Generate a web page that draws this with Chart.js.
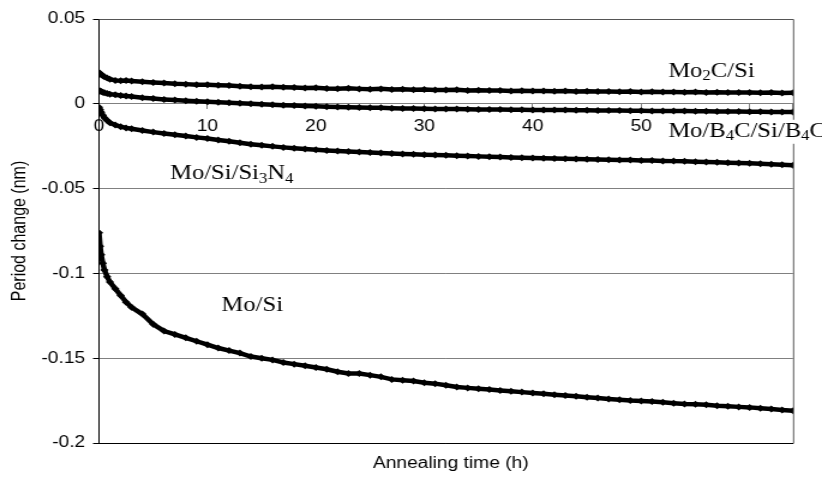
<!DOCTYPE html>
<html>
<head>
<meta charset="utf-8">
<script src="https://cdn.jsdelivr.net/npm/chart.js@4"></script>
<style>
  html, body { margin: 0; padding: 0; background: #fff; overflow: hidden; }
  canvas { display: block; }
</style>
</head>
<body>
<canvas id="c" width="685" height="487" style="width:822px;height:487px"></canvas>
<script>
// ---- data ----
const times = [0, 0.1, 0.2, 0.35, 0.5, 0.75, 1, 1.5, 2, 2.5, 3,
  4, 5, 6, 7, 8, 9, 10, 11, 12, 13, 14, 15, 16, 17, 18, 19, 20, 21, 22, 23, 24,
  25, 26, 27, 28, 29, 30, 31, 32, 33, 34, 35, 36, 37, 38, 39, 40, 41, 42, 43, 44,
  45, 46, 47, 48, 49, 50, 51, 52, 53, 54, 55, 56, 57, 58, 59, 60, 61, 62, 63, 64];

const mo2cSi = [0.0185, 0.0178, 0.0172, 0.0165, 0.0160, 0.0152, 0.0145, 0.0138, 0.0136, 0.0138, 0.0135,
  0.0130, 0.0126, 0.0122, 0.0118, 0.0116, 0.0113, 0.0112, 0.0110, 0.0108, 0.0104, 0.0100, 0.0099, 0.0101,
  0.0098, 0.0096, 0.0093, 0.0094, 0.0090, 0.0089, 0.0091, 0.0088, 0.0086, 0.0088, 0.0085, 0.0086, 0.0083,
  0.0084, 0.0082, 0.0081, 0.0083, 0.0079, 0.0080, 0.0078, 0.0079, 0.0076, 0.0077, 0.0075, 0.0076, 0.0074,
  0.0075, 0.0073, 0.0074, 0.0072, 0.0073, 0.0071, 0.0072, 0.0070, 0.0071, 0.0069, 0.0070, 0.0068, 0.0069,
  0.0067, 0.0068, 0.0066, 0.0067, 0.0066, 0.0065, 0.0066, 0.0064, 0.0065];

const moB4cSiB4c = [0.0079, 0.0075, 0.0072, 0.0068, 0.0065, 0.0061, 0.0057, 0.0053, 0.0049, 0.0046, 0.0043,
  0.0036, 0.0031, 0.0026, 0.0022, 0.0018, 0.0015, 0.0012, 0.0009, 0.0006, 0.0003, 0.0000, -0.0003, -0.0005,
  -0.0008, -0.0010, -0.0013, -0.0015, -0.0017, -0.0019, -0.0020, -0.0022, -0.0023, -0.0024, -0.0026, -0.0027,
  -0.0028, -0.0029, -0.0030, -0.0031, -0.0031, -0.0032, -0.0033, -0.0033, -0.0034, -0.0035, -0.0035, -0.0036,
  -0.0036, -0.0037, -0.0037, -0.0038, -0.0038, -0.0039, -0.0040, -0.0040, -0.0041, -0.0041, -0.0042, -0.0042,
  -0.0043, -0.0043, -0.0044, -0.0044, -0.0045, -0.0046, -0.0046, -0.0047, -0.0047, -0.0048, -0.0048, -0.0049];

const moSiSi3n4 = [-0.0020, -0.0035, -0.0050, -0.0068, -0.0082, -0.0098, -0.0112, -0.0125, -0.0135, -0.0142, -0.0147,
  -0.0157, -0.0167, -0.0175, -0.0182, -0.0190, -0.0198, -0.0205, -0.0213, -0.0221, -0.0230, -0.0238, -0.0245,
  -0.0251, -0.0257, -0.0262, -0.0267, -0.0271, -0.0275, -0.0278, -0.0281, -0.0284, -0.0287, -0.0290, -0.0293,
  -0.0296, -0.0298, -0.0300, -0.0302, -0.0304, -0.0306, -0.0308, -0.0310, -0.0312, -0.0314, -0.0316, -0.0318,
  -0.0320, -0.0321, -0.0323, -0.0324, -0.0325, -0.0327, -0.0328, -0.0330, -0.0331, -0.0332, -0.0334, -0.0335,
  -0.0337, -0.0338, -0.0339, -0.0341, -0.0343, -0.0345, -0.0347, -0.0349, -0.0351, -0.0354, -0.0357, -0.0360, -0.0363];

const moSi = [-0.076, -0.084, -0.089, -0.094, -0.098, -0.102, -0.105, -0.109, -0.113, -0.117, -0.120,
  -0.124, -0.130, -0.134, -0.136, -0.138, -0.140, -0.142, -0.144, -0.1455, -0.147, -0.149, -0.150, -0.151,
  -0.1525, -0.1535, -0.1545, -0.1555, -0.1565, -0.158, -0.159, -0.159, -0.160, -0.161, -0.1625, -0.163, -0.1635,
  -0.1645, -0.165, -0.166, -0.167, -0.1675, -0.168, -0.1685, -0.169, -0.1695, -0.170, -0.1705, -0.171, -0.1715,
  -0.172, -0.1725, -0.173, -0.1735, -0.174, -0.1745, -0.175, -0.1752, -0.1756, -0.176, -0.1765, -0.177, -0.1772,
  -0.1775, -0.178, -0.1783, -0.1787, -0.179, -0.1795, -0.180, -0.1805, -0.181];

const seriesNames = ['Mo2C/Si', 'Mo/B4C/Si/B4C', 'Mo/Si/Si3N4', 'Mo/Si'];
const xTickLabels = ['0', '10', '20', '30', '40', '50', ''];
const yTickLabels = ['-0.2', '-0.15', '-0.1', '-0.05', '0', '0.05'];
const xTitle = 'Annealing time (h)';
const yTitle = 'Period change (nm)';

// ---- presentation ----
const FONT_SANS = '"Liberation Sans", Arial, sans-serif';
const FONT_SERIF = '"Liberation Serif", "Times New Roman", serif';

// in-chart text labels (segments with subscripts), anchored at data coordinates
const seriesLabels = [
  { at: [52.5, 0.0189], parts: [['Mo'], ['2', 1], ['C/Si']], box: false },
  { at: [52.5, -0.0165], parts: [['Mo/B'], ['4', 1], ['C/Si/B'], ['4', 1], ['C']], box: true },
  { at: [6.55, -0.0414], parts: [['Mo/Si/Si'], ['3', 1], ['N'], ['4', 1]], box: false },
  { at: [11.3, -0.119], parts: [['Mo/Si']], box: false }
];

function toPoints(ys) { return times.map((t, i) => ({ x: t, y: ys[i] })); }

function ds(label, ys) {
  return {
    label: label,
    data: toPoints(ys),
    showLine: true,
    borderColor: '#000',
    backgroundColor: '#000',
    borderWidth: 4.5,
    pointStyle: 'rectRot',
    pointRadius: 3.5,
    pointBorderWidth: 0,
    tension: 0
  };
}

const decor = {
  id: 'decor',
  beforeDatasetsDraw(chart) {
    const { ctx, chartArea: a } = chart;
    ctx.save();
    ctx.lineWidth = 1;
    ctx.strokeStyle = '#555';
    ctx.beginPath();
    ctx.moveTo(a.left, a.top + 0.5);
    ctx.lineTo(a.right + 0.5, a.top + 0.5);
    ctx.lineTo(a.right + 0.5, a.bottom);
    ctx.stroke();
    ctx.strokeStyle = '#000';
    ctx.beginPath();
    ctx.moveTo(a.left, a.bottom + 0.5);
    ctx.lineTo(a.right + 0.5, a.bottom + 0.5);
    ctx.stroke();
    ctx.restore();
  },
  afterDraw(chart) {
    const { ctx, scales } = chart;
    const size = 20.5, subSize = 14;
    ctx.save();
    ctx.textBaseline = 'middle';
    ctx.textAlign = 'left';
    seriesLabels.forEach(lab => {
      const px = scales.x.getPixelForValue(lab.at[0]);
      const py = scales.y.getPixelForValue(lab.at[1]);
      let w = 0;
      lab.parts.forEach(p => {
        ctx.font = (p[1] ? subSize : size) + 'px ' + FONT_SERIF;
        w += ctx.measureText(p[0]).width;
      });
      if (lab.box) {
        ctx.fillStyle = '#fff';
        ctx.fillRect(px - 3, py - 12, w + 8, 24);
      }
      ctx.fillStyle = '#000';
      let x = px;
      lab.parts.forEach(p => {
        ctx.font = (p[1] ? subSize : size) + 'px ' + FONT_SERIF;
        ctx.fillText(p[0], x, p[1] ? py + 5 : py);
        x += ctx.measureText(p[0]).width;
      });
    });
    // x axis title
    const a = chart.chartArea;
    ctx.font = '16px ' + FONT_SANS;
    ctx.textAlign = 'center';
    ctx.fillText(xTitle, (a.left + a.right) / 2 + 4, 464);
    ctx.restore();
  }
};

new Chart(document.getElementById('c'), {
  type: 'scatter',
  data: {
    datasets: [
      ds(seriesNames[0], mo2cSi),
      ds(seriesNames[1], moB4cSiB4c),
      ds(seriesNames[2], moSiSi3n4),
      ds(seriesNames[3], moSi)
    ]
  },
  options: {
    responsive: false,
    animation: false,
    devicePixelRatio: 1,
    layout: { padding: { left: 0, right: 24.2, top: 19, bottom: 44 } },
    plugins: { legend: { display: false }, tooltip: { enabled: false } },
    scales: {
      x: {
        type: 'linear',
        position: { y: 0 },
        min: 0, max: 64,
        ticks: {
          stepSize: 10,
          padding: 8,
          maxRotation: 0,
          color: '#000',
          font: { family: FONT_SANS, size: 16 },
          callback: (v) => { const i = Math.round(v / 10); return xTickLabels[i] !== undefined ? xTickLabels[i] : ''; }
        },
        grid: { drawOnChartArea: false, drawTicks: true, tickLength: 5, color: '#808080' },
        border: { display: true, color: '#808080', width: 1 }
      },
      y: {
        type: 'linear',
        position: 'left',
        min: -0.2, max: 0.05,
        afterFit: (s) => { s.width = 82.5; },
        ticks: {
          stepSize: 0.05,
          padding: 6.5,
          color: '#000',
          font: { family: FONT_SANS, size: 16 },
          callback: (v) => { const i = Math.round((v + 0.2) / 0.05); return yTickLabels[i] !== undefined ? yTickLabels[i] : ''; }
        },
        grid: { color: '#808080', lineWidth: 1, drawTicks: true, tickLength: 5, tickColor: '#000' },
        border: { display: true, color: '#000', width: 1 },
        title: {
          display: true,
          text: yTitle,
          color: '#000',
          font: { family: FONT_SANS, size: 16 },
          padding: { top: 7, bottom: 0 }
        }
      }
    }
  },
  plugins: [decor]
});
</script>
</body>
</html>
